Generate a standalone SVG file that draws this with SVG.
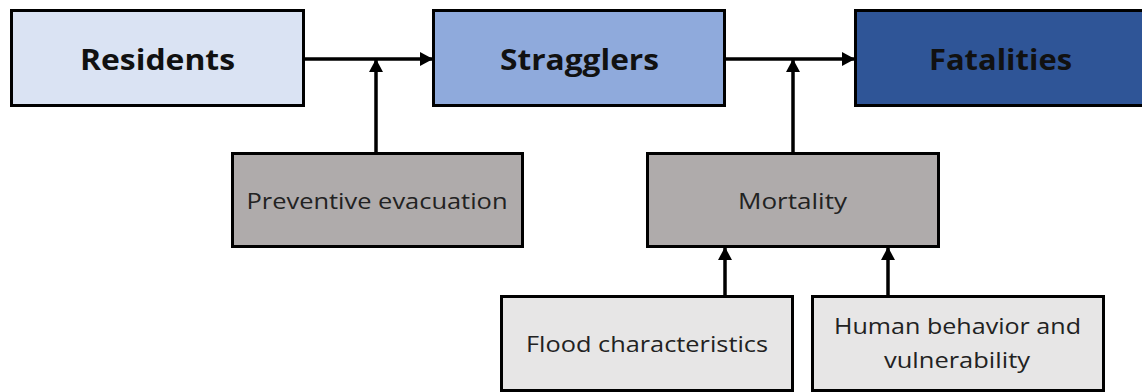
<svg xmlns="http://www.w3.org/2000/svg" width="1142" height="392" viewBox="0 0 1142 392">
  <style>
    .box { stroke: #000; stroke-width: 3; }
    .title { font-family: "Open Sans", "Liberation Sans", sans-serif; font-weight: bold; font-size: 28.5px; fill: #111; text-anchor: middle; }
    .label { font-family: "Open Sans", "Liberation Sans", sans-serif; font-size: 22px; fill: #222; text-anchor: middle; }
    .wire { stroke: #000; stroke-width: 3.5; fill: none; marker-end: url(#head); }
  </style>
  <defs>
    <marker id="head" markerUnits="userSpaceOnUse" markerWidth="13" markerHeight="14" refX="12" refY="7" orient="auto">
      <path d="M0,0 L13,7 L0,14 z" fill="#000"/>
    </marker>
  </defs>

  <rect x="0" y="0" width="1142" height="392" fill="#fff"/>

  <!-- main chain -->
  <g id="residents">
    <rect class="box" x="11.5" y="10.5" width="292" height="95" fill="#DAE3F3"/>
    <text class="title" x="157.5" y="70" textLength="155" lengthAdjust="spacingAndGlyphs">Residents</text>
  </g>
  <g id="stragglers">
    <rect class="box" x="433.5" y="10.5" width="291" height="95" fill="#8FAADC"/>
    <text class="title" x="579.5" y="70" textLength="159" lengthAdjust="spacingAndGlyphs">Stragglers</text>
  </g>
  <g id="fatalities">
    <rect class="box" x="855.5" y="10.5" width="292" height="95" fill="#2F5597"/>
    <text class="title" x="1000.5" y="70" textLength="143" lengthAdjust="spacingAndGlyphs">Fatalities</text>
  </g>

  <!-- influencing factors -->
  <g id="preventive-evacuation">
    <rect class="box" x="232.5" y="153.5" width="290" height="93" fill="#AFABAB"/>
    <text class="label" x="377" y="209" textLength="261" lengthAdjust="spacingAndGlyphs">Preventive evacuation</text>
  </g>
  <g id="mortality">
    <rect class="box" x="647.5" y="153.5" width="291" height="93" fill="#AFABAB"/>
    <text class="label" x="792.5" y="209" textLength="109" lengthAdjust="spacingAndGlyphs">Mortality</text>
  </g>
  <g id="flood-characteristics">
    <rect class="box" x="501.5" y="296.5" width="291" height="94" fill="#E7E6E6"/>
    <text class="label" x="647" y="352" textLength="242" lengthAdjust="spacingAndGlyphs">Flood characteristics</text>
  </g>
  <g id="human-behavior">
    <rect class="box" x="812.5" y="296.5" width="291" height="94" fill="#E7E6E6"/>
    <text class="label" x="957.5" y="334" textLength="247" lengthAdjust="spacingAndGlyphs">Human behavior and</text>
    <text class="label" x="957" y="368" textLength="146" lengthAdjust="spacingAndGlyphs">vulnerability</text>
  </g>

  <!-- connectors -->
  <g id="connectors">
    <line class="wire" x1="305" y1="59" x2="432" y2="59"/>
    <line class="wire" x1="726" y1="59" x2="854" y2="59"/>
    <line class="wire" x1="376" y1="152" x2="376" y2="60"/>
    <line class="wire" x1="793" y1="152" x2="793" y2="60"/>
    <line class="wire" x1="725" y1="295" x2="725" y2="248"/>
    <line class="wire" x1="888" y1="295" x2="888" y2="248"/>
  </g>
</svg>
